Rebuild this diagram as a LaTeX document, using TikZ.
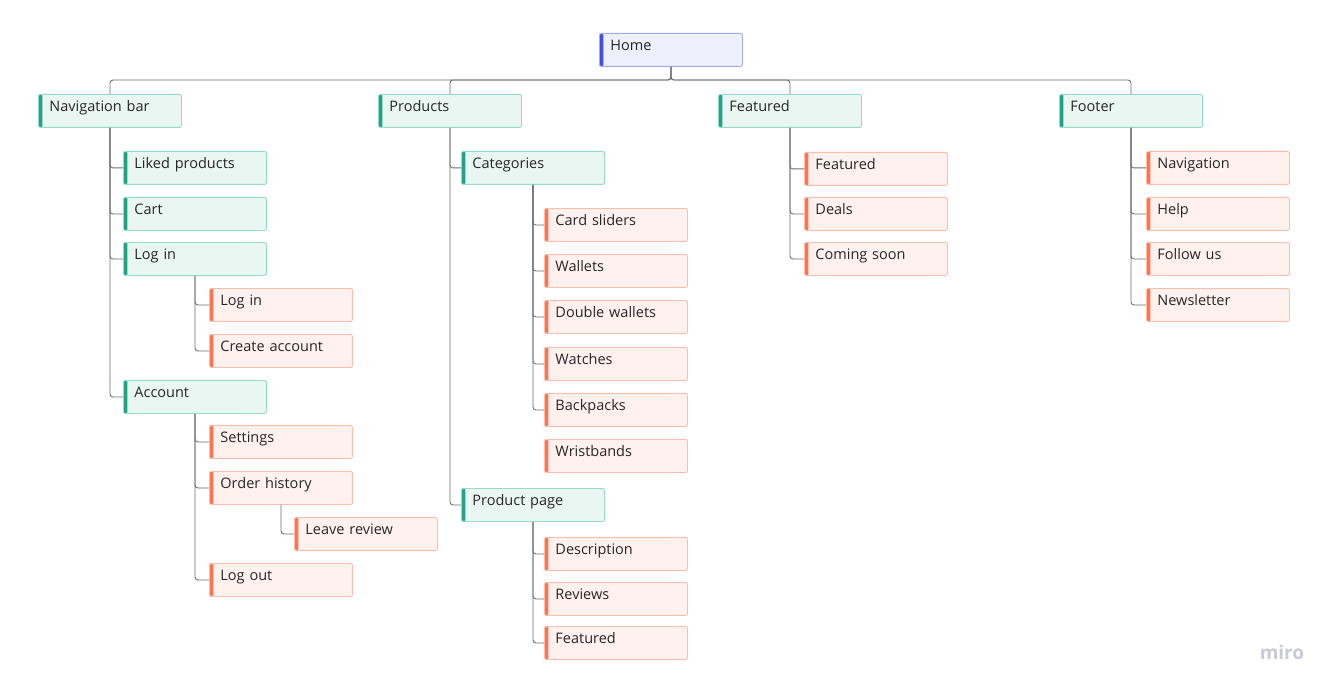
\documentclass[tikz,border=0pt]{standalone}
\usepackage{fontspec}
\setmainfont{Open Sans}
\begin{document}
\definecolor{ink}{HTML}{262626}
\definecolor{wire}{HTML}{6E6E6E}
\definecolor{homefill}{HTML}{EEEFFD}
\definecolor{homeline}{HTML}{A3A8F2}
\definecolor{homebar}{HTML}{4250DD}
\definecolor{secfill}{HTML}{E9F6F2}
\definecolor{secline}{HTML}{93DCCA}
\definecolor{secbar}{HTML}{1EA386}
\definecolor{pagefill}{HTML}{FFF1EE}
\definecolor{pageline}{HTML}{FFBCAB}
\definecolor{pagebar}{HTML}{FF7450}
\definecolor{logo}{HTML}{C9CAD4}
\begin{tikzpicture}[x=1pt,y=-1pt,
  box/.style={rectangle, rounded corners=2pt, minimum width=143pt, minimum height=33pt,
    inner xsep=11pt, inner ysep=0pt, text height=12pt, text depth=11pt, text width=121pt,
    align=left, anchor=north west, font=\fontsize{14.5}{17}\selectfont, text=ink, line width=0.9pt},
  bar/.style={path picture={\fill[#1] (path picture bounding box.north west) rectangle ([xshift=4pt]path picture bounding box.south west);}},
  homebox/.style={box, fill=homefill, draw=homeline, bar=homebar},
  secbox/.style={box, fill=secfill, draw=secline, bar=secbar},
  pagebox/.style={box, fill=pagefill, draw=pageline, bar=pagebar},
  conn/.style={draw=wire, line width=0.9pt, rounded corners=3pt}
]
\fill[white] (0,0) rectangle (1334,690);
\useasboundingbox (0,0) rectangle (1334,690);

% root
\node[homebox] (home) at (599,33) {Home};

% top-level sections
\node[secbox] (nav)  at (38,94)   {Navigation bar};
\node[secbox] (prod) at (378,94)  {Products};
\node[secbox] (feat) at (718,94)  {Featured};
\node[secbox] (foot) at (1059,94) {Footer};

% navigation bar
\node[secbox] (liked)   at (123,151) {Liked products};
\node[secbox] (cart)    at (123,197) {Cart};
\node[secbox] (login)   at (123,242) {Log in};
\node[secbox] (account) at (123,380) {Account};
\node[pagebox] (loginpg)  at (209,288) {Log in};
\node[pagebox] (create)   at (209,334) {Create account};
\node[pagebox] (settings) at (209,425) {Settings};
\node[pagebox] (orders)   at (209,471) {Order history};
\node[pagebox] (review)   at (294,517) {Leave review};
\node[pagebox] (logout)   at (209,563) {Log out};

% products
\node[secbox] (cats)  at (461,151) {Categories};
\node[secbox] (ppage) at (461,488) {Product page};
\node[pagebox] (sliders)  at (544,208) {Card sliders};
\node[pagebox] (wallets)  at (544,254) {Wallets};
\node[pagebox] (dwallets) at (544,300) {Double wallets};
\node[pagebox] (watches)  at (544,347) {Watches};
\node[pagebox] (backpack) at (544,393) {Backpacks};
\node[pagebox] (wrist)    at (544,439) {Wristbands};
\node[pagebox] (desc)     at (544,537) {Description};
\node[pagebox] (reviews)  at (544,582) {Reviews};
\node[pagebox] (pfeat)    at (544,626) {Featured};

% featured
\node[pagebox] (ffeat)  at (804,152) {Featured};
\node[pagebox] (deals)  at (804,197) {Deals};
\node[pagebox] (soon)   at (804,242) {Coming soon};

% footer
\node[pagebox] (fnav)   at (1146,151) {Navigation};
\node[pagebox] (help)   at (1146,197) {Help};
\node[pagebox] (follow) at (1146,242) {Follow us};
\node[pagebox] (news)   at (1146,288) {Newsletter};

% root to sections
\coordinate (bus) at (home.center |- 0,80);
\foreach \s in {nav,prod,feat,foot}
  \draw[conn] (home.south) -- (bus) -| (\s.north);

% section children
\foreach \p/\c in {nav/liked, nav/cart, nav/login, nav/account,
                   login/loginpg, login/create,
                   account/settings, account/orders, account/logout,
                   orders/review,
                   prod/cats, prod/ppage,
                   cats/sliders, cats/wallets, cats/dwallets, cats/watches, cats/backpack,
                   ppage/desc, ppage/reviews, ppage/pfeat,
                   feat/ffeat, feat/deals, feat/soon,
                   foot/fnav, foot/help, foot/follow, foot/news}
  \draw[conn] (\p.south) |- (\c.west);

% brand mark
\node[anchor=center, text=logo, font=\fontsize{19}{20}\selectfont\bfseries] (brand) at (1282,652) {miro};
\end{tikzpicture}
\end{document}
